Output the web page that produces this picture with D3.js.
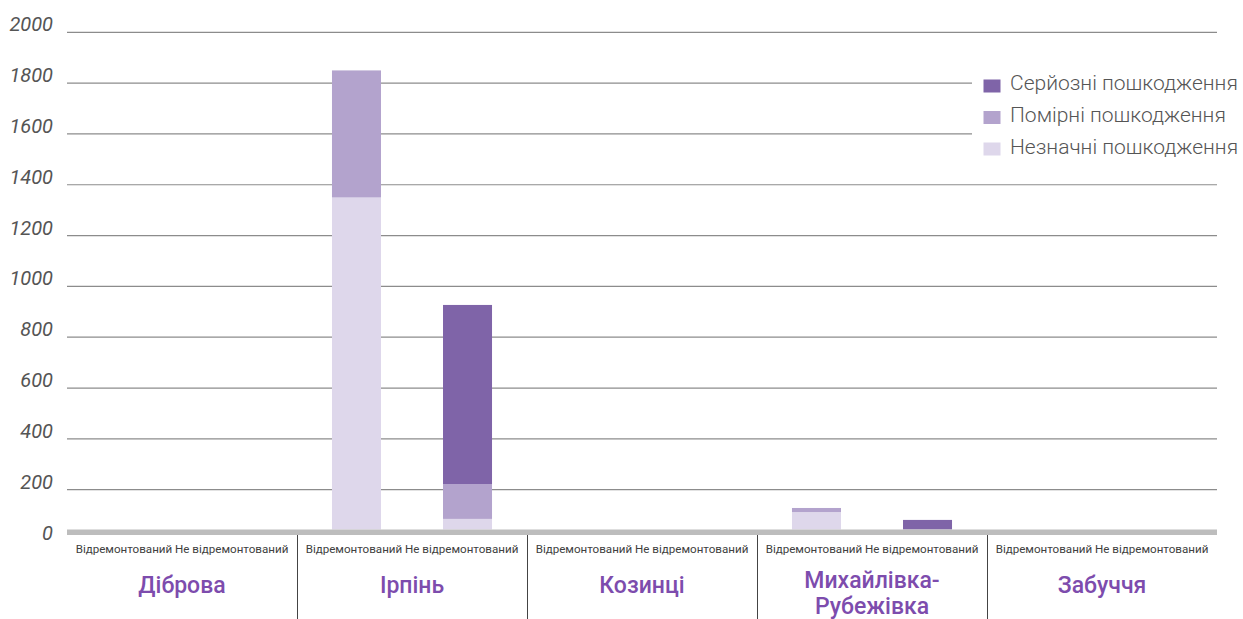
<!DOCTYPE html>
<html><head><meta charset="utf-8">
<script src="https://cdn.jsdelivr.net/npm/d3@7"></script>
<style>
html,body{margin:0;padding:0;background:#fff;}
svg{display:block;font-family:Roboto,"Noto Sans",sans-serif;}
</style></head>
<body><svg id="c" width="1243" height="619"></svg>
<script>
const villages = ["Діброва","Ірпінь","Козинці","Михайлівка-Рубежівка","Забуччя"];
const statuses = ["Відремонтований","Не відремонтований"];
const seriesNames = ["Серйозні пошкодження","Помірні пошкодження","Незначні пошкодження"];
const seriesColors = ["#7f64a8","#b3a3cd","#ded7eb"];
// values per village, [repaired, not repaired]
const minorDamage    = [[0,0],[1350,85],[0,0],[112,0],[0,0]];
const moderateDamage = [[0,0],[500,137],[0,0],[16,0],[0,0]];
const seriousDamage  = [[0,0],[0,705],[0,0],[0,81],[0,0]];
const yTicks = [0,200,400,600,800,1000,1200,1400,1600,1800,2000];

const svg = d3.select("#c");
const left = 67, right = 1217;
const y = d3.scaleLinear().domain([0,2000]).range([540.5,32.3]);
const x0 = d3.scaleBand().domain(villages).range([left,right]);
const x1 = d3.scaleBand().domain(statuses).range([0,x0.bandwidth()]).paddingInner(0.5586).paddingOuter(0.315);
const baseTop = 529.5, baseH = 5.5;

// gridlines
svg.append("g").selectAll("line").data(yTicks.filter(d=>d>0)).join("line")
  .attr("x1",left).attr("x2",right).attr("y1",d=>y(d)).attr("y2",d=>y(d))
  .attr("stroke","#8c8c8c").attr("stroke-width",1.2);
// y labels
svg.append("g").selectAll("text").data(yTicks).join("text")
  .attr("x",53).attr("y",d=>y(d)-1).attr("text-anchor","end")
  .attr("font-size",20).attr("font-style","italic").attr("fill","#555")
  .text(d=>d);

// stacked bars
const rows = [];
villages.forEach((v,i)=>statuses.forEach((s,j)=>{
  rows.push({v,s,"Незначні пошкодження":minorDamage[i][j],"Помірні пошкодження":moderateDamage[i][j],"Серйозні пошкодження":seriousDamage[i][j]});
}));
const stackKeys = ["Незначні пошкодження","Помірні пошкодження","Серйозні пошкодження"];
const stacked = d3.stack().keys(stackKeys)(rows);
const color = d3.scaleOrdinal().domain(seriesNames).range(seriesColors);
svg.append("clipPath").attr("id","plotclip").append("rect")
  .attr("x",0).attr("y",0).attr("width",1243).attr("height",baseTop);
const bars = svg.append("g").attr("clip-path","url(#plotclip)");
stacked.forEach(layer=>{
  bars.append("g").attr("fill",color(layer.key)).selectAll("rect")
    .data(layer.filter(d=>d[1]-d[0]>0)).join("rect")
    .attr("x",d=>x0(d.data.v)+x1(d.data.s))
    .attr("width",x1.bandwidth())
    .attr("y",d=>y(d[1]))
    .attr("height",d=>y(d[0])-y(d[1]));
});

// baseline band
svg.append("rect").attr("x",left).attr("y",baseTop).attr("width",right-left).attr("height",baseH).attr("fill","#bdbdbd");

// group separators
svg.append("g").selectAll("line").data(villages.slice(1)).join("line")
  .attr("x1",d=>x0(d)+0.5).attr("x2",d=>x0(d)+0.5)
  .attr("y1",baseTop+baseH).attr("y2",619)
  .attr("stroke","#444").attr("stroke-width",1);

// sub labels
svg.append("g").selectAll("text").data(villages).join("text")
  .attr("x",d=>x0(d)+x0.bandwidth()/2).attr("y",552.5)
  .attr("text-anchor","middle").attr("font-size",11.6).attr("fill","#404040")
  .text(statuses.join(" "));

// village labels
const vl = svg.append("g").selectAll("text").data(villages).join("text")
  .attr("x",d=>x0(d)+x0.bandwidth()/2)
  .attr("y",d=>d.includes("-")?588:593)
  .attr("text-anchor","middle").attr("font-size",23).attr("font-weight",500).attr("fill","#7d4cad");
vl.each(function(d){
  const t = d3.select(this);
  if(d.includes("-")){
    const parts = d.split("-");
    t.append("tspan").attr("x",x0(d)+x0.bandwidth()/2).text(parts[0]+"-");
    t.append("tspan").attr("x",x0(d)+x0.bandwidth()/2).attr("dy",26).text(parts[1]);
  } else t.text(d);
});

// legend
const lg = svg.append("g");
lg.append("rect").attr("x",972).attr("y",60).attr("width",271).attr("height",105).attr("fill","#fff");
seriesNames.forEach((n,i)=>{
  lg.append("rect").attr("x",983.5).attr("y",79.5+i*31.5).attr("width",17).attr("height",13).attr("fill",color(n));
  lg.append("text").attr("x",1010).attr("y",89.5+i*32).attr("font-size",21).attr("font-weight",300).attr("fill","#555").text(n);
});
</script></body></html>
